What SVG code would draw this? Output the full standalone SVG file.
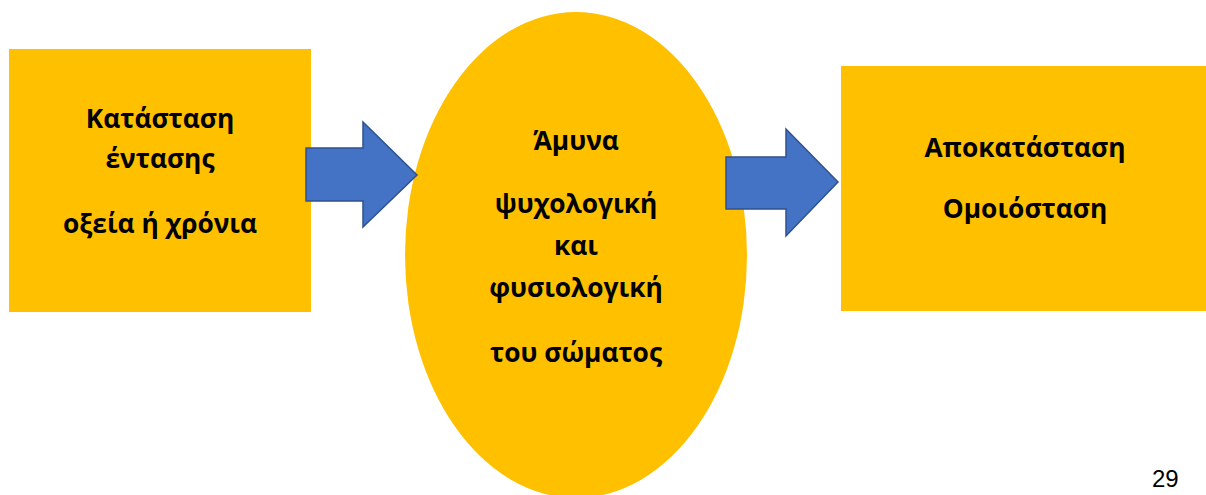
<svg xmlns="http://www.w3.org/2000/svg" width="1206" height="495" viewBox="0 0 1206 495">
<style>
.box{fill:#FFC000}
.t{font-family:"Open Sans","Noto Sans","DejaVu Sans",sans-serif;font-weight:bold;font-size:26.3px;fill:#000;text-anchor:middle}
.arr{fill:#4472C4;stroke:#2F528F;stroke-width:1.5}
.pg{font-family:"Liberation Sans",Arial,sans-serif;font-size:24px;fill:#000}
</style>
<rect width="1206" height="495" fill="#fff"/>
<g id="n1">
<rect class="box" x="9" y="49" width="302" height="263"/>
<text class="t" x="160" y="128">Κατάσταση</text>
<text class="t" x="160" y="168">έντασης</text>
<text class="t" x="160" y="233">οξεία ή χρόνια</text>
</g>
<g id="n2">
<ellipse class="box" cx="576" cy="255" rx="171" ry="243"/>
<text class="t" x="576" y="150">Άμυνα</text>
<text class="t" x="576" y="213">ψυχολογική</text>
<text class="t" x="576" y="255">και</text>
<text class="t" x="576" y="297">φυσιολογική</text>
<text class="t" x="576" y="362">του σώματος</text>
</g>
<g id="n3">
<rect class="box" x="841" y="66" width="365" height="245"/>
<text class="t" x="1025" y="157">Αποκατάσταση</text>
<text class="t" x="1025" y="218">Ομοιόσταση</text>
</g>
<g id="connectors">
<path class="arr" d="M306,148 H363 V122 L417,175 L363,227 V201 H306 Z"/>
<path class="arr" d="M726,157 H786 V129 L838,182 L786,236 V209 H726 Z"/>
</g>
<text class="pg" x="1152" y="487">29</text>
</svg>
